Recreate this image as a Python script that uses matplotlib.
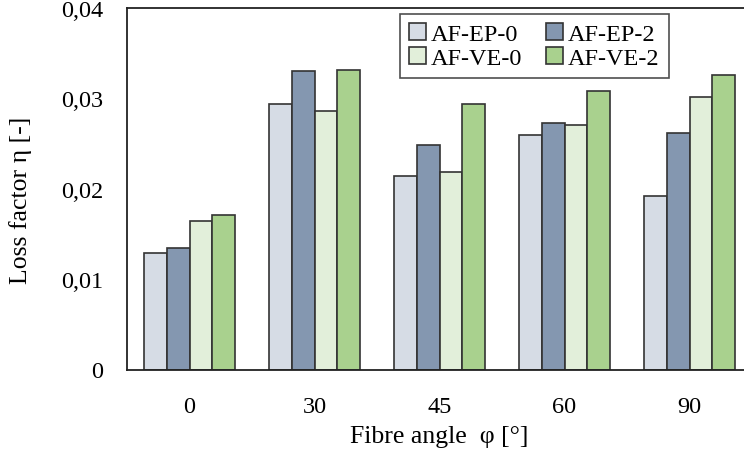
import matplotlib
matplotlib.use('Agg')
import matplotlib.pyplot as plt
import numpy as np

angles = ['0', '30', '45', '60', '90']
series = ['AF-EP-0', 'AF-EP-2', 'AF-VE-0', 'AF-VE-2']
ep0 = [0.0129, 0.0294, 0.0214, 0.0260, 0.0192]
ep2 = [0.0134, 0.0330, 0.0248, 0.0273, 0.0262]
ve0 = [0.0164, 0.0286, 0.0218, 0.0270, 0.0301]
ve2 = [0.0171, 0.0331, 0.0294, 0.0308, 0.0326]
colors = ['#D6DCE5', '#8497B0', '#E2EFDA', '#A9D18E']
yticks = [0, 0.01, 0.02, 0.03, 0.04]
ytick_labels = ['0', '0,01', '0,02', '0,03', '0,04']

plt.rcParams['font.family'] = ['Liberation Serif', 'DejaVu Serif']
fs_tick = 17.5
fs_label = 18.5
fs_leg = 17.5

fig = plt.figure(figsize=(7.44, 4.52), dpi=100)
ax = fig.add_axes([127/744, 81.5/452, 625/744, 361.5/452])

x = np.arange(len(angles))
w = 0.182
bars = []
for i, vals in enumerate([ep0, ep2, ve0, ve2]):
    b = ax.bar(x + (i - 1.5)*w, vals, w, color=colors[i], edgecolor='#333333',
               linewidth=1.2, label=series[i])
    bars.append(b)

ax.set_xlim(-0.5, 4.5)
ax.set_ylim(0, 0.04)
ax.set_xticks(x)
ax.set_xticklabels(angles, fontsize=fs_tick)
ax.set_yticks(yticks)
ax.set_yticklabels(ytick_labels, fontsize=fs_tick)
ax.tick_params(length=0)
ax.tick_params(axis='y', pad=17)
ax.tick_params(axis='x', pad=19)
ax.spines['right'].set_visible(False)
for s in ['left', 'top', 'bottom']:
    ax.spines[s].set_color('#222222')
    ax.spines[s].set_linewidth(1.3)

ax.set_xlabel('Fibre angle  φ [°]', fontsize=fs_label, va='center')
ax.xaxis.set_label_coords(0.5, -0.184)
ax.set_ylabel('Loss factor η [-]', fontsize=fs_label, va='center')
ax.yaxis.set_label_coords(-0.171, 0.47)

# legend filled column-wise: EP-0, VE-0 | EP-2, VE-2
order = [0, 2, 1, 3]
leg = fig.legend([bars[i] for i in order], [series[i] for i in order], ncol=2,
                 loc='upper left', bbox_to_anchor=(400/744, 1 - 15/452),
                 bbox_transform=fig.transFigure, borderaxespad=0, fontsize=fs_leg,
                 frameon=True, fancybox=False, edgecolor='#222222',
                 handlelength=0.7, handleheight=0.7, handletextpad=0.2,
                 columnspacing=1.0, labelspacing=0.1, borderpad=0.36)
leg.get_frame().set_linewidth(1.2)

fig.savefig('out.png', dpi=100)
